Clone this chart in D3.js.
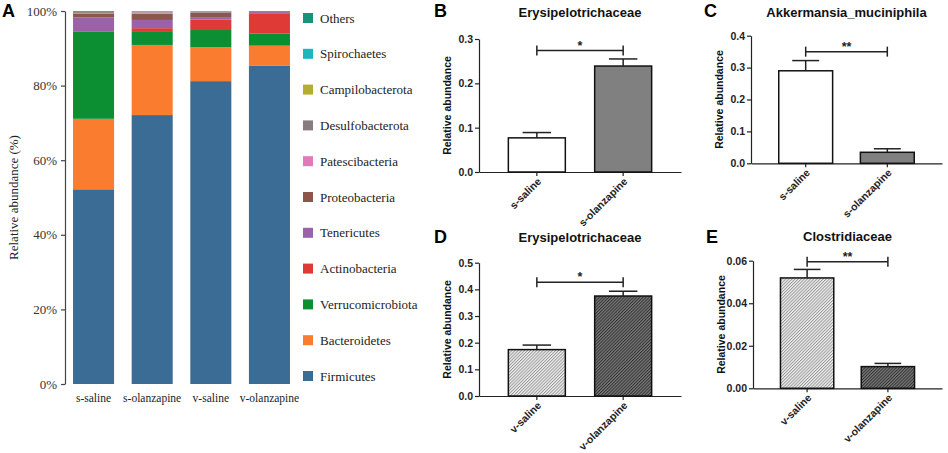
<!DOCTYPE html>
<html>
<head>
<meta charset="utf-8">
<script src="https://cdn.jsdelivr.net/npm/d3@7"></script>
<style>
  body { margin: 0; background: #fff; }
</style>
</head>
<body>
<div id="container"></div>
<script>
let w = 948;
let h = 453;

// ---- panel A data: relative abundance (%) per phylum, bottom -> top
let groupsA = ["s-saline", "s-olanzapine", "v-saline", "v-olanzapine"];
let phyla = ["Firmicutes", "Bacteroidetes", "Verrucomicrobiota", "Actinobacteria", "Tenericutes",
             "Proteobacteria", "Patescibacteria", "Desulfobacterota", "Campilobacterota", "Spirochaetes", "Others"];
let sSaline     = [52.2, 18.9, 23.3, 0.2, 3.7, 0.9, 0.1, 0.4, 0.05, 0.05, 0.2];
let sOlanzapine = [72.1, 18.8, 3.7, 0.8, 2.2, 1.7, 0.3, 0.2, 0.05, 0.05, 0.1];
let vSaline     = [81.2, 9.1, 4.6, 2.8, 0.5, 1.3, 0.05, 0.3, 0.05, 0.0, 0.1];
let vOlanzapine = [85.4, 5.3, 3.3, 5.4, 0.3, 0.2, 0.0, 0.0, 0.0, 0.0, 0.1];
let yTicksA = [0, 20, 40, 60, 80, 100];
let phylaColors = ["#3b6c96", "#f97c2f", "#0b8f32", "#df3a36", "#9a62a8",
                   "#8c564b", "#e07bb8", "#877d7e", "#b3ad32", "#1cb7bd", "#1a927a"];

// ---- panels B-E data
let sGroups = ["s-saline", "s-olanzapine"];
let vGroups = ["v-saline", "v-olanzapine"];
let titles = ["Erysipelotrichaceae", "Akkermansia_muciniphila", "Erysipelotrichaceae", "Clostridiaceae"];
let meansB = [0.077, 0.239];  let errB = [0.012, 0.016];
let meansC = [0.290, 0.0345]; let errC = [0.032, 0.011];
let meansD = [0.174, 0.375];  let errD = [0.017, 0.018];
let meansE = [0.0519, 0.0102]; let errE = [0.004, 0.0015];
let ticksB = [0, 0.1, 0.2, 0.3];
let ticksC = [0, 0.1, 0.2, 0.3, 0.4];
let ticksD = [0, 0.1, 0.2, 0.3, 0.4, 0.5];
let ticksE = [0, 0.02, 0.04, 0.06];
let sigMarks = ["*", "**", "*", "**"];
let sigLevels = [0.274, 0.350, 0.4265, 0.0595];

let viz = d3.select("#container")
  .append("svg")
    .attr("width", w)
    .attr("height", h)
    .style("background-color", "white");

// hatch patterns for panels D/E
let defs = viz.append("defs");
function hatch(id, bg, fg){
  let p = defs.append("pattern")
    .attr("id", id)
    .attr("patternUnits", "userSpaceOnUse")
    .attr("width", 2.2).attr("height", 2.2)
    .attr("patternTransform", "rotate(45)");
  p.append("rect").attr("width", 2.2).attr("height", 2.2).attr("fill", bg);
  p.append("line").attr("x1", 0.5).attr("y1", 0).attr("x2", 0.5).attr("y2", 2.2)
    .attr("stroke", fg).attr("stroke-width", 0.9);
}
hatch("hatchLight", "#f2f2f2", "#8e8e8e");
hatch("hatchDark", "#7a7a7a", "#2a2a2a");

let sans = "'Liberation Sans', Arial, sans-serif";
let serif = "'Liberation Serif', 'Times New Roman', serif";

// ================= panel A =================
let rowsA = [sSaline, sOlanzapine, vSaline, vOlanzapine].map(function(vals, i){
  let r = {group: groupsA[i]};
  phyla.forEach(function(p, j){ r[p] = vals[j]; });
  return r;
});
let stackA = d3.stack().keys(phyla)(rowsA);

let xA = d3.scaleBand().domain(groupsA).range([65, 298]).paddingInner(0.3).paddingOuter(0.137);
let yA = d3.scaleLinear().domain([0, 100]).range([384, 11]);
let colorA = d3.scaleOrdinal().domain(phyla).range(phylaColors);

let gA = viz.append("g");
gA.selectAll(".layer").data(stackA).enter()
  .append("g")
    .attr("fill", function(d){ return colorA(d.key); })
  .selectAll("rect").data(function(d){ return d; }).enter()
  .append("rect")
    .attr("x", function(d){ return xA(d.data.group); })
    .attr("y", function(d){ return yA(d[1]); })
    .attr("width", xA.bandwidth())
    .attr("height", function(d){ return yA(d[0]) - yA(d[1]); });

let axA = gA.append("g")
  .attr("transform", "translate(65,0)")
  .call(d3.axisLeft(yA).tickValues(yTicksA).tickFormat(function(d){ return d + "%"; }).tickSize(4).tickSizeOuter(0).tickPadding(4));
axA.selectAll("path, line").attr("stroke", "#444").attr("stroke-width", 1.2);
axA.selectAll("text").attr("font-family", serif).attr("font-size", 13).attr("fill", "#333");

gA.selectAll(".xlab").data(groupsA).enter()
  .append("text")
    .attr("x", function(d){ return xA(d) + xA.bandwidth() / 2; })
    .attr("y", 402)
    .attr("text-anchor", "middle")
    .attr("font-family", serif).attr("font-size", 11.5).attr("fill", "#222")
    .text(function(d){ return d; });

gA.append("text")
  .attr("transform", "translate(18,197.5) rotate(-90)")
  .attr("text-anchor", "middle")
  .attr("font-family", serif).attr("font-size", 13).attr("fill", "#222")
  .text("Relative abundance (%)");

// legend, Others on top
let legendOrder = phyla.slice().reverse();
let legY = d3.scalePoint().domain(legendOrder).range([18, 376]);
let leg = gA.selectAll(".leg").data(legendOrder).enter()
  .append("g")
    .attr("transform", function(d){ return "translate(303," + legY(d) + ")"; });
leg.append("rect").attr("x", 0).attr("y", -5).attr("width", 10).attr("height", 10)
  .attr("fill", function(d){ return colorA(d); });
leg.append("text").attr("x", 17).attr("dy", "0.35em")
  .attr("font-family", serif).attr("font-size", 13).attr("fill", "#222")
  .text(function(d){ return d; });

// ================= panels B-E =================
let panels = [
  {title: titles[0], groups: sGroups, means: meansB, err: errB, ticks: ticksB, fmt: ".1f", fills: ["white", "#808080"], sig: sigMarks[0], sigLevel: sigLevels[0],
   box: {left: 479, right: 681, top: 39, bottom: 172}, letter: "B", lx: 434, ly: 17, ty: 17},
  {title: titles[1], groups: sGroups, means: meansC, err: errC, ticks: ticksC, fmt: ".1f", fills: ["white", "#808080"], sig: sigMarks[1], sigLevel: sigLevels[1],
   box: {left: 751, right: 942, top: 35.7, bottom: 163.3}, letter: "C", lx: 704, ly: 17, ty: 17},
  {title: titles[2], groups: vGroups, means: meansD, err: errD, ticks: ticksD, fmt: ".1f", fills: ["url(#hatchLight)", "url(#hatchDark)"], sig: sigMarks[2], sigLevel: sigLevels[2],
   box: {left: 479, right: 681, top: 262.7, bottom: 396}, letter: "D", lx: 434, ly: 243, ty: 242},
  {title: titles[3], groups: vGroups, means: meansE, err: errE, ticks: ticksE, fmt: ".2f", fills: ["url(#hatchLight)", "url(#hatchDark)"], sig: sigMarks[3], sigLevel: sigLevels[3],
   box: {left: 753, right: 942, top: 260.7, bottom: 388.3}, letter: "E", lx: 706, ly: 243, ty: 241}
];

panels.forEach(drawPanel);

function drawPanel(p){
  let b = p.box;
  let x = d3.scaleBand().domain(p.groups).range([b.left, b.right]).padding(0.34);
  let y = d3.scaleLinear().domain([0, d3.max(p.ticks)]).range([b.bottom, b.top]);
  let bw = x.bandwidth();
  let g = viz.append("g");

  let yax = g.append("g").attr("transform", "translate(" + b.left + ",0)")
    .call(d3.axisLeft(y).tickValues(p.ticks).tickFormat(d3.format(p.fmt)).tickSize(4).tickSizeOuter(0).tickPadding(2));
  let xax = g.append("g").attr("transform", "translate(0," + b.bottom + ")")
    .call(d3.axisBottom(x).tickSize(4).tickSizeOuter(0).tickFormat(""));
  g.selectAll("path.domain, .tick line").attr("stroke", "#222").attr("stroke-width", 1.2);
  yax.selectAll("text").attr("font-family", sans).attr("font-weight", "bold").attr("font-size", 10.5).attr("fill", "#222");

  // rotated group labels
  g.selectAll(".xl").data(p.groups).enter()
    .append("text")
      .attr("transform", function(d){ return "translate(" + (x(d) + bw / 2 + 5) + "," + (b.bottom + 10) + ") rotate(-45)"; })
      .attr("text-anchor", "end")
      .attr("font-family", sans).attr("font-weight", "bold").attr("font-size", 10.5).attr("fill", "#222")
      .text(function(d){ return d; });

  // bars
  g.selectAll(".bar").data(p.groups).enter()
    .append("rect")
      .attr("x", function(d){ return x(d); })
      .attr("y", function(d, i){ return y(p.means[i]); })
      .attr("width", bw)
      .attr("height", function(d, i){ return y(0) - y(p.means[i]); })
      .attr("fill", function(d, i){ return p.fills[i]; })
      .attr("stroke", "#111").attr("stroke-width", 1.5);

  // error bars (upper half)
  p.groups.forEach(function(d, i){
    let cx = x(d) + bw / 2;
    g.append("line").attr("x1", cx).attr("x2", cx)
      .attr("y1", y(p.means[i])).attr("y2", y(p.means[i] + p.err[i]))
      .attr("stroke", "#222").attr("stroke-width", 1.5);
    g.append("line").attr("x1", cx - bw / 4).attr("x2", cx + bw / 4)
      .attr("y1", y(p.means[i] + p.err[i])).attr("y2", y(p.means[i] + p.err[i]))
      .attr("stroke", "#222").attr("stroke-width", 1.5);
  });

  // significance bracket
  let c0 = x(p.groups[0]) + bw / 2, c1 = x(p.groups[1]) + bw / 2, sy = y(p.sigLevel);
  g.append("line").attr("x1", c0).attr("x2", c1).attr("y1", sy).attr("y2", sy)
    .attr("stroke", "#222").attr("stroke-width", 1.5);
  [c0, c1].forEach(function(cx){
    g.append("line").attr("x1", cx).attr("x2", cx).attr("y1", sy - 5).attr("y2", sy + 5)
      .attr("stroke", "#222").attr("stroke-width", 1.5);
  });
  g.append("text").attr("x", (c0 + c1) / 2).attr("y", sy - 1)
    .attr("text-anchor", "middle")
    .attr("font-family", sans).attr("font-weight", "bold").attr("font-size", 12.5).attr("fill", "#222")
    .text(p.sig);

  // titles, y label, panel letter
  g.append("text").attr("x", (b.left + b.right) / 2).attr("y", p.ty)
    .attr("text-anchor", "middle")
    .attr("font-family", sans).attr("font-weight", "bold").attr("font-size", 13).attr("fill", "#111")
    .text(p.title);
  g.append("text")
    .attr("transform", "translate(" + (b.left - 28) + "," + ((b.top + b.bottom) / 2) + ") rotate(-90)")
    .attr("text-anchor", "middle")
    .attr("font-family", sans).attr("font-weight", "bold").attr("font-size", 10.5).attr("fill", "#111")
    .text("Relative abundance");
  g.append("text").attr("x", p.lx).attr("y", p.ly)
    .attr("font-family", sans).attr("font-weight", "bold").attr("font-size", 18).attr("fill", "#000")
    .text(p.letter);
}

viz.append("text").attr("x", 2).attr("y", 17)
  .attr("font-family", sans).attr("font-weight", "bold").attr("font-size", 18).attr("fill", "#000")
  .text("A");
</script>
</body>
</html>
